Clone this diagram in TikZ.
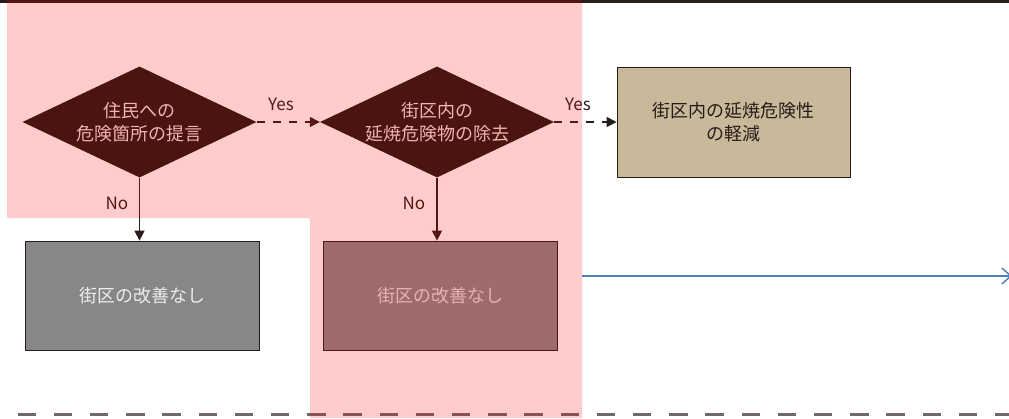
\documentclass[tikz,border=0pt]{standalone}
\usepackage{fontspec}
\setmainfont{Noto Sans CJK JP}
\usetikzlibrary{shapes.geometric,arrows.meta}
\definecolor{diamfill}{RGB}{29,25,22}
\definecolor{linec}{RGB}{40,28,26}
\definecolor{tanbox}{RGB}{200,185,154}
\definecolor{graybox}{RGB}{135,135,135}
\definecolor{bluel}{RGB}{79,129,189}
\definecolor{botdash}{RGB}{110,104,104}
\definecolor{diamtext}{RGB}{240,225,220}
\tikzset{
  decision/.style={diamond, fill=diamfill, text=diamtext, inner sep=0pt, aspect=2.1,
    minimum width=234pt, minimum height=111pt, align=center,
    font=\fontsize{18}{23.5}\selectfont},
  resultbox/.style={draw=linec, line width=0.8pt, minimum width=234pt, minimum height=109pt,
    align=center, font=\fontsize{18}{23.5}\selectfont},
  yesarrow/.style={draw=linec, line width=1.2pt, dash pattern=on 8pt off 8pt,
    -{Triangle[length=10pt,width=10pt]}},
  noarrow/.style={draw=linec, line width=1.2pt, -{Triangle[length=10pt,width=10pt]}},
  lbl/.style={font=\fontsize{17}{19}\selectfont, text=linec, inner sep=0pt}
}
\begin{document}
\begin{tikzpicture}[x=1pt,y=-1pt]
\useasboundingbox (0,0) rectangle (1009,418);
% top bar and bottom dashed line
\draw[draw=linec, line width=3pt] (0,1.5) -- (1009,1.5);
\draw[draw=botdash, line width=3pt, dash pattern=on 18.5pt off 17.7pt] (-18.7,414) -- (1009,414);
% decisions
\node[decision] (d1) at (139.5,122) {住民への\\危険箇所の提言};
\node[decision] (d2) at (437,122) {街区内の\\延焼危険物の除去};
% result boxes
\node[resultbox, fill=tanbox, text=linec, minimum width=233pt, minimum height=110pt] (b3) at (733.5,122) {街区内の延焼危険性\\の軽減};
\node[resultbox, fill=graybox, text=white!93!black] (b1) at (142,295.5) {街区の改善なし};
\node[resultbox, fill=graybox, text=white!88!black] (b2) at (440,295.5) {街区の改善なし};
% connectors
\draw[yesarrow] (d1.east) -- (d2.west);
\draw[yesarrow] (d2.east) -- (b3.west);
\draw[noarrow] (d1.south) -- (d1.south |- b1.north);
\draw[noarrow] (d2.south) -- (d2.south |- b2.north);
\node[lbl] (y1) at (281,104) {Yes};
\node[lbl] (y2) at (578,104) {Yes};
\node[lbl] (n1) at (117,203) {No};
\node[lbl] (n2) at (414,203) {No};
% blue arrow
\coordinate (bs) at (582,276);
\coordinate (be) at (1012,276);
\draw[draw=bluel, line width=1.5pt, -{Straight Barb[length=9pt,width=16pt,line width=1.5pt]}] (bs) -- (be);
% translucent highlight
\fill[red, fill opacity=0.2] (7,0) -- (582,0) -- (582,418) -- (310,418) -- (310,218) -- (7,218) -- cycle;
\end{tikzpicture}
\end{document}
